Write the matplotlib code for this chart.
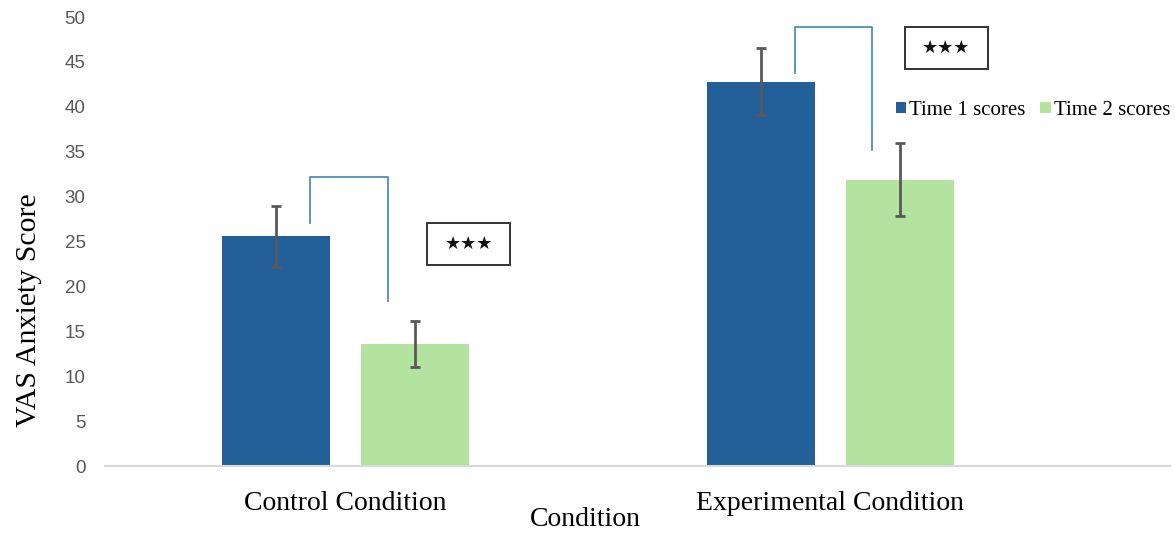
import numpy as np
import matplotlib.pyplot as plt
from matplotlib.patches import Rectangle

conditions = ['Control Condition', 'Experimental Condition']
time1_scores = [25.6, 42.8]
time2_scores = [13.6, 31.9]
time1_err = [3.4, 3.75]
time2_err = [2.6, 4.05]
yticks = [0, 5, 10, 15, 20, 25, 30, 35, 40, 45, 50]

blue = '#235f99'
green = '#b3e39f'
bracket_col = '#4a90b2'
serif = ['Liberation Serif', 'DejaVu Serif']
sans = ['Liberation Sans', 'DejaVu Sans']

fig = plt.figure(figsize=(11.75, 5.33), dpi=100)
ax = fig.add_axes([0.0894, 0.1257, 0.9063, 0.8423])

x = np.arange(len(conditions))
w = 0.223
off = 0.1435
err_kw = dict(ecolor='#595959', elinewidth=2, capsize=3.6, capthick=2)
ax.bar(x - off, time1_scores, w, yerr=time1_err, color=blue,
       label='Time 1 scores', error_kw=err_kw, zorder=2)
ax.bar(x + off, time2_scores, w, yerr=time2_err, color=green,
       label='Time 2 scores', error_kw=err_kw, zorder=2)

# significance brackets between Time 1 and Time 2 of each condition
brackets = [(27.1, 32.15, 18.4), (43.8, 48.9, 35.2)]
for i, (yl, ytop, yr) in enumerate(brackets):
    xl = x[i] - off + 0.0705
    xr = x[i] + off - 0.057
    ax.plot([xl, xl, xr, xr], [yl, ytop, ytop, yr], color=bracket_col, lw=1.3, zorder=3)

# boxed significance labels: (x0, x1, y0, y1)
boxes = [(0.168, 0.3395, 22.4, 27.06), (1.153, 1.324, 44.2, 48.85)]
for x0, x1, y0, y1 in boxes:
    ax.add_patch(Rectangle((x0, y0), x1 - x0, y1 - y0, fc='white', ec='#333333',
                           lw=1.4, zorder=4))
    ax.text((x0 + x1) / 2, (y0 + y1) / 2, '★★★', ha='center', va='center',
            fontsize=13, family=['DejaVu Sans'], color='#111111', zorder=5)

ax.set_xlim(-0.496, 1.70)
ax.set_ylim(0, 50)
ax.set_yticks(yticks)
ax.set_xticks(x)
ax.set_xticklabels(conditions, family=serif, fontsize=20)
ax.tick_params(axis='x', length=0, pad=18)
ax.tick_params(axis='y', length=0, labelsize=13.5, labelcolor='#595959', pad=14)
for lab in ax.get_yticklabels():
    lab.set_family(sans)
for s in ['top', 'right', 'left']:
    ax.spines[s].set_visible(False)
ax.spines['bottom'].set_color('#d9d9d9')
ax.spines['bottom'].set_linewidth(1.5)

fig.text(0.025, 0.418, 'VAS Anxiety Score', family=serif, fontsize=21.5,
         rotation=90, ha='center', va='center')
fig.text(0.498, 0.026, 'Condition', family=serif, fontsize=20, ha='center', va='center')

ax.legend(loc='center left', bbox_to_anchor=(0.7426, 0.792), ncol=2, frameon=False,
          prop={'family': serif, 'size': 15}, handlelength=0.5, handleheight=0.5,
          handletextpad=0.15, columnspacing=0.7, borderpad=0, borderaxespad=0)

fig.savefig('out.png', dpi=100)
